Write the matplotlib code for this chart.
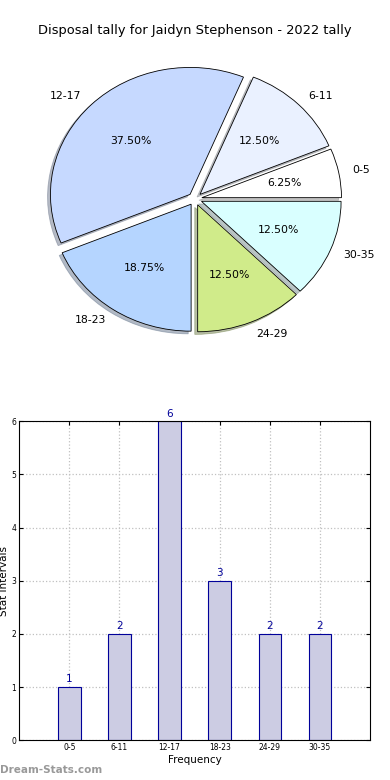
import numpy as np
import matplotlib
matplotlib.use("Agg")
import matplotlib.pyplot as plt

# data
categories = ['0-5', '6-11', '12-17', '18-23', '24-29', '30-35']
counts = [1, 2, 6, 3, 2, 2]
pie_colors = ['#ffffff', '#eaf1ff', '#c6d9ff', '#b5d5ff', '#d0eb8a', '#d9ffff']

fig = plt.figure(figsize=(3.9, 7.8), dpi=100)

# pie chart (slightly squashed like the original, no equal aspect)
ax1 = fig.add_axes([0.0525, 0.5415, 0.895, 0.407])
wedges, texts, autotexts = ax1.pie(
    counts, labels=categories, colors=pie_colors, autopct='%1.2f%%',
    explode=[0.05] * len(counts), shadow={'ox': -0.015, 'oy': -0.015, 'shade': 0.45}, startangle=0,
    labeldistance=1.1, pctdistance=0.6,
    wedgeprops={'edgecolor': 'black', 'linewidth': 0.6},
    textprops={'fontsize': 7.8})
ax1.set_aspect('auto')
fig.text(0.5, 0.961, 'Disposal tally for Jaidyn Stephenson - 2022 tally',
         ha='center', va='center', fontsize=9.4)

# bar chart
ax2 = fig.add_axes([0.049, 0.051, 0.9, 0.409])
x = np.arange(len(categories))
ax2.bar(x, counts, width=0.45, color='#ccccE3', edgecolor='#000099', linewidth=0.8, zorder=2)
for xi, c in zip(x, counts):
    ax2.text(xi, c + 0.05, str(c), ha='center', va='bottom', color='#000099', fontsize=7.5)
ax2.set_xlim(-1, 6)
ax2.set_ylim(0, 6)
ax2.set_xticks(x)
ax2.set_xticklabels(categories, fontsize=5.5)
ax2.set_yticks(range(7))
ax2.tick_params(axis='y', labelsize=5.5)
ax2.tick_params(direction='in', top=True, right=True, length=3, pad=2)
ax2.grid(True, linestyle=':', color='#c0c0c0', linewidth=0.9, zorder=0)
ax2.set_axisbelow(True)
ax2.set_xlabel('Frequency', fontsize=7.5, labelpad=2.5)
ax2.set_ylabel('Stat intervals', fontsize=7.5, labelpad=2)

fig.text(0.0, 0.013, 'Dream-Stats.com', color='#999999', fontsize=7.5, fontweight='bold',
         ha='left', va='center')

fig.savefig('out.png', dpi=100)
